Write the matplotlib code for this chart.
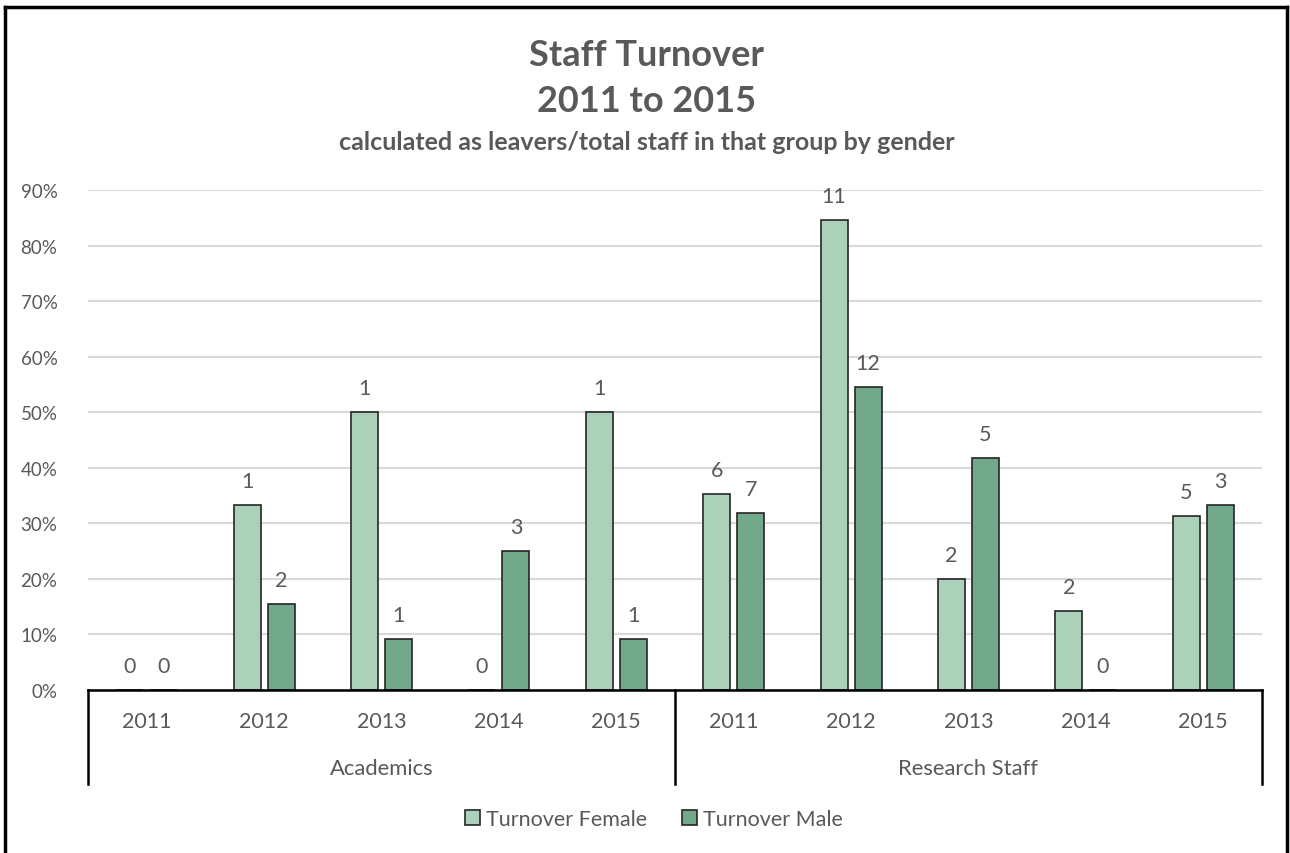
import numpy as np
import matplotlib.pyplot as plt
from matplotlib.ticker import PercentFormatter

plt.rcParams['font.family'] = ['Lato', 'DejaVu Sans']

groups = ['Academics', 'Research Staff']
years = ['2011', '2012', '2013', '2014', '2015']
female = [0.0, 33.3, 50.0, 0.0, 50.0, 35.3, 84.6, 20.0, 14.3, 31.25]
male = [0.0, 15.4, 9.1, 25.0, 9.1, 31.8, 54.5, 41.7, 0.0, 33.3]
female_n = [0, 1, 1, 0, 1, 6, 11, 2, 2, 5]
male_n = [0, 2, 1, 3, 1, 7, 12, 5, 0, 3]

c_f = '#abd1bb'
c_m = '#71a98a'
grey = '#595959'

fig = plt.figure(figsize=(12.9, 8.54), dpi=100)
ax = fig.add_axes([88/1290, 1-691/854, (1262-88)/1290, 500/854])

x = np.arange(len(female))
w = 0.23
off = 0.145
ax.bar(x-off, female, w, color=c_f, edgecolor='#262626', linewidth=1.2, label='Turnover Female', zorder=3)
ax.bar(x+off, male, w, color=c_m, edgecolor='#262626', linewidth=1.2, label='Turnover Male', zorder=3)

for i in range(len(x)):
    ax.annotate(str(female_n[i]), (x[i]-off, female[i]), xytext=(0, 13), textcoords='offset points',
                ha='center', va='baseline', fontsize=15.5, color=grey)
    ax.annotate(str(male_n[i]), (x[i]+off, male[i]), xytext=(0, 13), textcoords='offset points',
                ha='center', va='baseline', fontsize=15.5, color=grey)

ax.set_xlim(-0.5, 9.5)
ax.set_ylim(0, 90)
ax.set_yticks(np.arange(0, 91, 10))
ax.yaxis.set_major_formatter(PercentFormatter(decimals=0))
ax.grid(axis='y', color='#d9d9d9', linewidth=1.5, zorder=0)
for s in ['top', 'right', 'left']:
    ax.spines[s].set_visible(False)
ax.spines['bottom'].set_linewidth(1.8)
ax.spines['bottom'].set_zorder(4)
ax.tick_params(axis='y', length=0, labelsize=13.5, labelcolor=grey, pad=22)
ax.set_xticks([])

# two-level category axis
tr = ax.get_xaxis_transform()
for i in range(len(x)):
    ax.text(x[i], -0.062, years[i % 5], transform=tr, ha='center', va='center', fontsize=15.5, color=grey)
for g in range(2):
    ax.text(2 + g*5, -0.156, groups[g], transform=tr, ha='center', va='center', fontsize=15.8, color=grey)
for xs in [-0.5, 4.5, 9.5]:
    ax.plot([xs, xs], [0, -0.188], transform=tr, color='black', linewidth=1.8, clip_on=False)

fig.text(0.5015, 1-55/854, 'Staff Turnover', ha='center', va='center', fontsize=26, fontweight='bold', color=grey)
fig.text(0.5015, 1-101/854, '2011 to 2015', ha='center', va='center', fontsize=26, fontweight='bold', color=grey)
fig.text(0.5015, 1-143/854, 'calculated as leavers/total staff in that group by gender', ha='center', va='center',
         fontsize=18, fontweight='bold', color=grey)

leg = fig.legend(loc='center', bbox_to_anchor=(0.507, 1-820/854), ncol=2, frameon=False, fontsize=15.5,
                 handlelength=0.7, handleheight=0.7, handletextpad=0.3, columnspacing=1.6)
for t in leg.get_texts():
    t.set_color(grey)

# outer frame
fig.add_artist(plt.Line2D([5/1290, 5/1290], [0, 1-8/854], color='black', linewidth=2.5))
fig.add_artist(plt.Line2D([5/1290, 1287/1290], [1-8/854, 1-8/854], color='black', linewidth=2.5))
fig.add_artist(plt.Line2D([1287/1290, 1287/1290], [0, 1-8/854], color='black', linewidth=2.5))

fig.savefig('out.png', dpi=100)
